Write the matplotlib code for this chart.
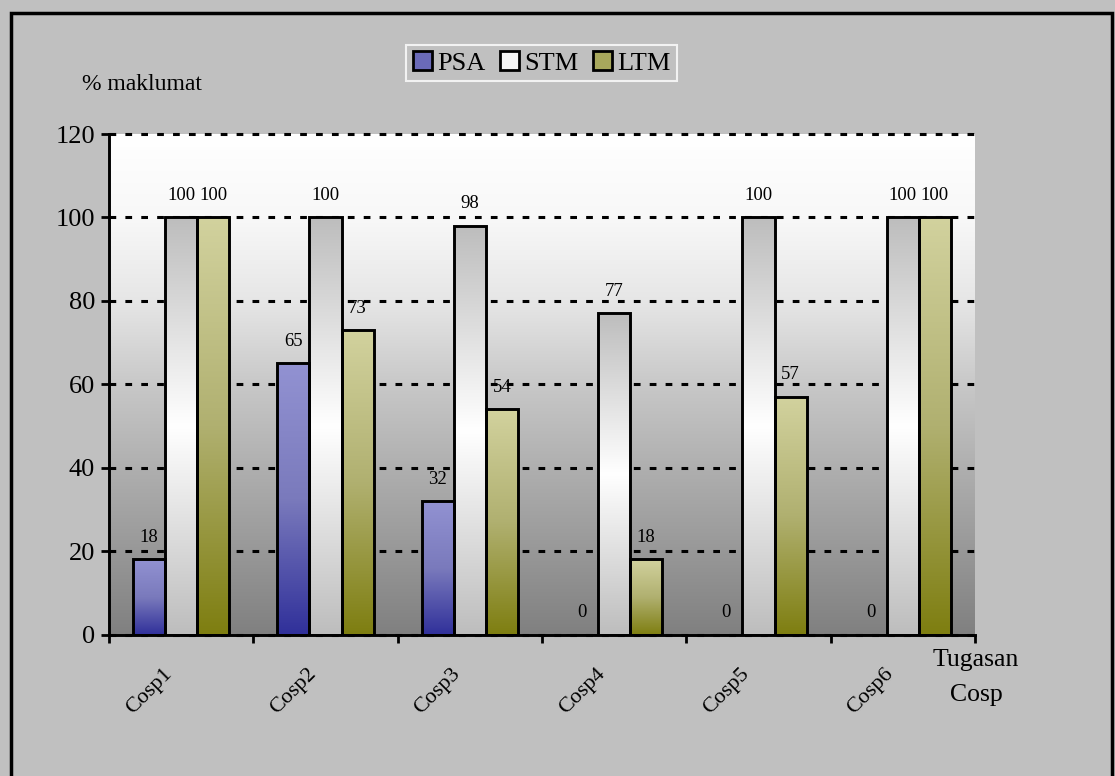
import numpy as np
import matplotlib
matplotlib.use('Agg')
import matplotlib.pyplot as plt
from matplotlib.colors import LinearSegmentedColormap
from matplotlib.patches import Patch, Rectangle
from matplotlib.transforms import ScaledTranslation

plt.rcParams['font.family'] = ['Liberation Serif', 'DejaVu Serif']

categories = ['Cosp1', 'Cosp2', 'Cosp3', 'Cosp4', 'Cosp5', 'Cosp6']
series = ['PSA', 'STM', 'LTM']
psa = [18, 65, 32, 0, 0, 0]
stm = [100, 100, 98, 77, 100, 100]
ltm = [100, 73, 54, 18, 57, 100]
yticks = [0, 20, 40, 60, 80, 100, 120]

# vertical fills, listed from top of bar to bottom
fills = {
    'PSA': ['#9292d2', '#7a7abc', '#30309a'],
    'STM': ['#bdbdbd', '#ffffff', '#bdbdbd'],
    'LTM': ['#d2d29e', '#b0b070', '#7e7e10'],
}
legend_cols = {'PSA': '#6a6ab8', 'STM': '#f4f4f4', 'LTM': '#a8a85c'}

fig = plt.figure(figsize=(11.15, 7.76), dpi=100)
fig.patch.set_facecolor('#c0c0c0')
ax = fig.add_axes([0.0978, 0.1823, 0.7766, 0.645])
ax.set_facecolor('none')

# plot area: white at the top, darkening towards the baseline
bg = np.linspace(0, 1, 256).reshape(-1, 1)
bg_cmap = LinearSegmentedColormap.from_list('bg', [
    (0.0, '#ffffff'), (1 / 6, '#f8f8f8'), (2 / 6, '#e6e6e6'),
    (3 / 6, '#c8c8c8'), (4 / 6, '#afafaf'), (5 / 6, '#989898'),
    (1.0, '#808080')])
ax.imshow(bg, cmap=bg_cmap, extent=[0, 1, 0, 1], transform=ax.transAxes,
          aspect='auto', zorder=0, origin='upper', interpolation='bilinear')

x = np.arange(len(categories))
w = 1 / 4.5
ramp = np.linspace(0, 1, 256).reshape(-1, 1)

for i, (name, vals) in enumerate(zip(series, [psa, stm, ltm])):
    bars = ax.bar(x + (i - 1) * w, vals, w, facecolor='none',
                  edgecolor='black', linewidth=2.1, zorder=3)
    cmap = LinearSegmentedColormap.from_list(name, fills[name])
    for b, v in zip(bars, vals):
        if v > 0:
            x0 = b.get_x()
            ax.imshow(ramp, cmap=cmap, origin='upper', aspect='auto',
                      extent=[x0, x0 + b.get_width(), 0, b.get_height()],
                      zorder=2, interpolation='bilinear')
        ax.annotate(str(v), (b.get_x() + b.get_width() / 2, v),
                    xytext=(0, 15.8), textcoords='offset points',
                    ha='center', va='center', fontsize=13.5, zorder=4)

ax.set_xlim(-0.5, len(categories) - 0.5)
ax.set_ylim(0, 120)
ax.set_yticks(yticks)
ax.tick_params(axis='y', labelsize=19, length=6, width=2, pad=4)
ax.yaxis.grid(True, color='black', linestyle=(0, (2.2, 3.0)), linewidth=2.2)
for gl in ax.yaxis.get_gridlines():
    gl.set_clip_on(False)
ax.set_axisbelow(True)

ax.set_xticks(x)
ax.set_xticklabels(categories, rotation=45, ha='right', va='center',
                   rotation_mode='anchor', fontsize=16)
ax.set_xticks(np.arange(len(categories) + 1) - 0.5, minor=True)
ax.tick_params(axis='x', which='major', length=0, pad=0)
ax.tick_params(axis='x', which='minor', length=6, width=2)
shift = ScaledTranslation(-0.12, -0.37, fig.dpi_scale_trans)
for lab in ax.get_xticklabels():
    lab.set_transform(lab.get_transform() + shift)

for s in ['top', 'right']:
    ax.spines[s].set_visible(False)
for s in ['left', 'bottom']:
    ax.spines[s].set_linewidth(2.1)
    ax.spines[s].set_zorder(5)

fig.text(82 / 1115, 1 - 85 / 776, '% maklumat', fontsize=17,
         ha='left', va='center')
fig.text(976 / 1115, 1 - 649 / 776, 'Tugasan\nCosp', fontsize=18.5,
         ha='center', va='top', linespacing=1.75)

handles = [Patch(facecolor=legend_cols[s], edgecolor='black', linewidth=2)
           for s in series]
leg = fig.legend(handles, series, loc='center', ncol=3,
                 bbox_to_anchor=(0.4857, 0.9188), fontsize=19,
                 frameon=True, fancybox=False, handlelength=0.72,
                 handleheight=0.72, handletextpad=0.2, columnspacing=0.55,
                 borderpad=0.25)
leg.get_frame().set_facecolor('#c0c0c0')
leg.get_frame().set_edgecolor('white')
leg.get_frame().set_linewidth(1.5)

# outer chart border
fig.add_artist(Rectangle((10.5 / 1115, -0.05), 1101 / 1115, 1.05 - 13 / 776,
                         transform=fig.transFigure, fill=False,
                         edgecolor='black', linewidth=2.5, clip_on=False))

fig.savefig('out.png', dpi=100, facecolor=fig.get_facecolor())
